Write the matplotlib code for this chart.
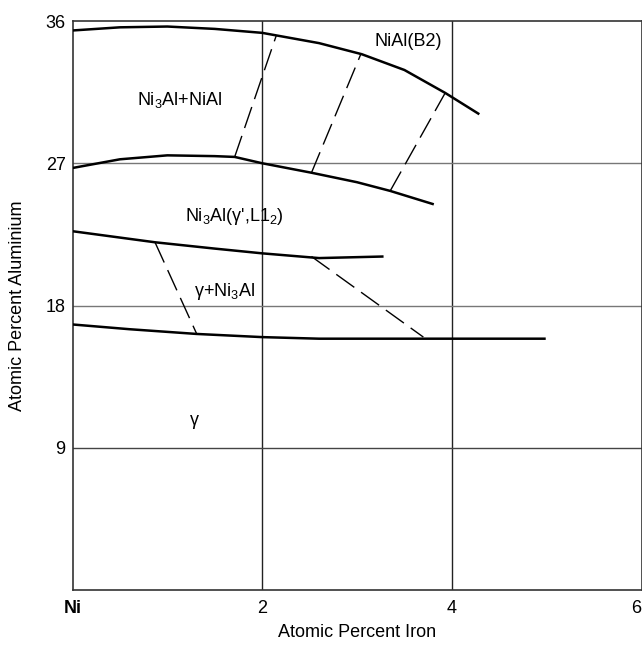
import matplotlib.pyplot as plt

plt.rcParams['font.family'] = ['Liberation Sans', 'DejaVu Sans']
plt.rcParams['mathtext.default'] = 'regular'

# phase boundaries (atomic % Fe, atomic % Al)
nial_x = [0, 0.5, 1.0, 1.5, 2.0, 2.6, 3.05, 3.5, 3.93, 4.29]
nial_y = [35.4, 35.6, 35.65, 35.5, 35.25, 34.6, 33.9, 32.9, 31.45, 30.1]

ni3al_top_x = [0, 0.5, 1.0, 1.5, 1.71, 2.0, 2.52, 3.0, 3.35, 3.81]
ni3al_top_y = [26.7, 27.25, 27.5, 27.45, 27.4, 27.0, 26.4, 25.8, 25.25, 24.4]

ni3al_bot_x = [0, 0.87, 1.5, 2.0, 2.6, 3.28]
ni3al_bot_y = [22.7, 22.0, 21.6, 21.3, 21.0, 21.1]

gamma_x = [0, 0.6, 1.31, 2.0, 2.6, 3.7, 4.99]
gamma_y = [16.8, 16.5, 16.2, 16.0, 15.9, 15.9, 15.9]

# tie lines: (x0, y0, x1, y1)
ties = [
    (1.71, 27.4, 2.15, 35.1),
    (2.52, 26.4, 3.04, 33.9),
    (3.35, 25.25, 3.93, 31.45),
    (0.87, 22.0, 1.31, 16.2),
    (2.52, 21.1, 3.70, 16.0),
]

xticks = [0, 2, 4, 6]
xticklabels = ['Ni', '2', '4', '6']
yticks = [9, 18, 27, 36]

fig = plt.figure(figsize=(6.42, 6.45), dpi=100)
ax = fig.add_axes([72.5 / 642, 55 / 645, 569 / 642, 569 / 645])
ax.set_xlim(0, 6)
ax.set_ylim(0, 36)

# grid
for gx in [2, 4]:
    ax.axvline(gx, color='#222222', lw=1.0, zorder=1)
ax.axhline(9, color='#444444', lw=1.0, zorder=1)
for gy in [18, 27]:
    ax.axhline(gy, color='#777777', lw=1.0, zorder=1)

for xs, ys in [(nial_x, nial_y), (ni3al_top_x, ni3al_top_y),
               (ni3al_bot_x, ni3al_bot_y), (gamma_x, gamma_y)]:
    ax.plot(xs, ys, color='black', lw=1.8, solid_capstyle='butt', zorder=3)

for x0, y0, x1, y1 in ties:
    ax.plot([x0, x1], [y0, y1], color='black', lw=1.0, dashes=(16, 6), zorder=3)

fs = 13
ax.text(3.54, 34.7, 'NiAl(B2)', fontsize=fs, ha='center', va='center')
ax.text(1.13, 31.0, 'Ni$_3$Al+NiAl', fontsize=fs, ha='center', va='center')
ax.text(1.71, 23.6, "Ni$_3$Al(γ',L1$_2$)", fontsize=fs, ha='center', va='center')
ax.text(1.60, 18.9, 'γ+Ni$_3$Al', fontsize=fs, ha='center', va='center')
ax.text(1.29, 10.75, 'γ', fontsize=fs, ha='center', va='center')

ax.set_xticks(xticks)
ax.set_xticklabels(xticklabels)
xl = ax.get_xticklabels()
xl[0].set_fontweight('bold')
xl[-1].set_ha('right')  # keep the last label inside the figure edge
ax.set_yticks(yticks)
ax.tick_params(length=0, labelsize=fs, pad=7)
ax.tick_params(axis='y', pad=5)

ax.set_xlabel('Atomic Percent Iron', fontsize=fs, labelpad=5)
ax.set_ylabel('Atomic Percent Aluminium', fontsize=fs, labelpad=14)

for sp in ax.spines.values():
    sp.set_linewidth(1.2)
    sp.set_color('#333333')

fig.savefig('out.png', dpi=100)
